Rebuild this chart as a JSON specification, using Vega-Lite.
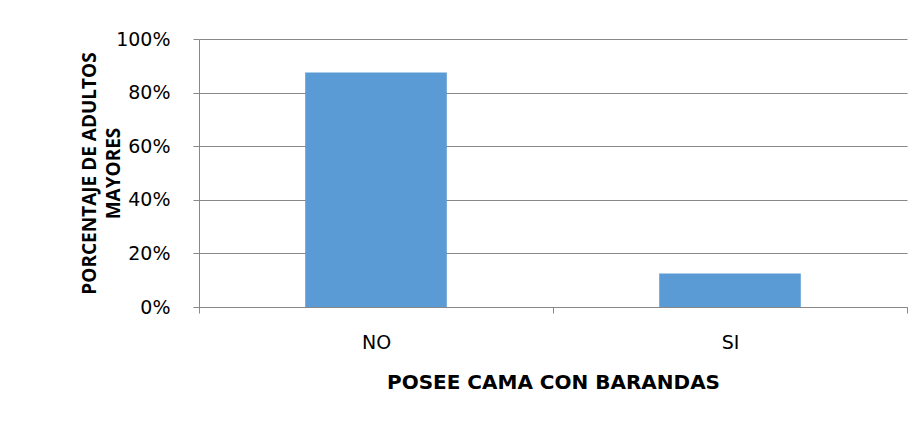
{
  "$schema": "https://vega.github.io/schema/vega-lite/v6.json",
  "width": 708,
  "height": 268,
  "autosize": {"type": "none"},
  "padding": {"left": 199, "top": 39, "right": 16, "bottom": 116},
  "background": "white",
  "data": {"values": [
    {"respuesta": "NO", "porcentaje": 0.875},
    {"respuesta": "SI", "porcentaje": 0.125}
  ]},
  "mark": {"type": "bar", "color": "#5B9BD5", "width": {"band": 0.4}},
  "encoding": {
    "x": {
      "field": "respuesta", "type": "nominal", "sort": null,
      "scale": {"paddingInner": 0, "paddingOuter": 0},
      "axis": {
        "title": "POSEE CAMA CON BARANDAS",
        "labelAngle": 0, "tickBand": "extent",
        "domainColor": "#888888", "tickColor": "#888888", "tickSize": 6,
        "labelPadding": 20, "titlePadding": 20,
        "titleFont": "DejaVu Sans", "titleFontSize": 20
      }
    },
    "y": {
      "field": "porcentaje", "type": "quantitative",
      "scale": {"domain": [0, 1], "nice": false},
      "axis": {
        "title": ["PORCENTAJE DE ADULTOS", "MAYORES"],
        "format": ".0%", "values": [0, 0.2, 0.4, 0.6, 0.8, 1],
        "labelOverlap": false,
        "domainColor": "#888888", "tickColor": "#888888", "gridColor": "#888888",
        "tickSize": 6, "labelPadding": 23, "titlePadding": -8, "titleLineHeight": 24,
        "titleFont": "Open Sans", "titleFontSize": 19
      }
    }
  },
  "config": {
    "view": {"stroke": null},
    "font": "DejaVu Sans",
    "axis": {
      "labelFont": "DejaVu Sans", "labelFontSize": 19, "labelColor": "#000000",
      "titleFontWeight": "bold", "titleColor": "#000000",
      "domainWidth": 1, "gridWidth": 1, "tickWidth": 1
    }
  }
}
